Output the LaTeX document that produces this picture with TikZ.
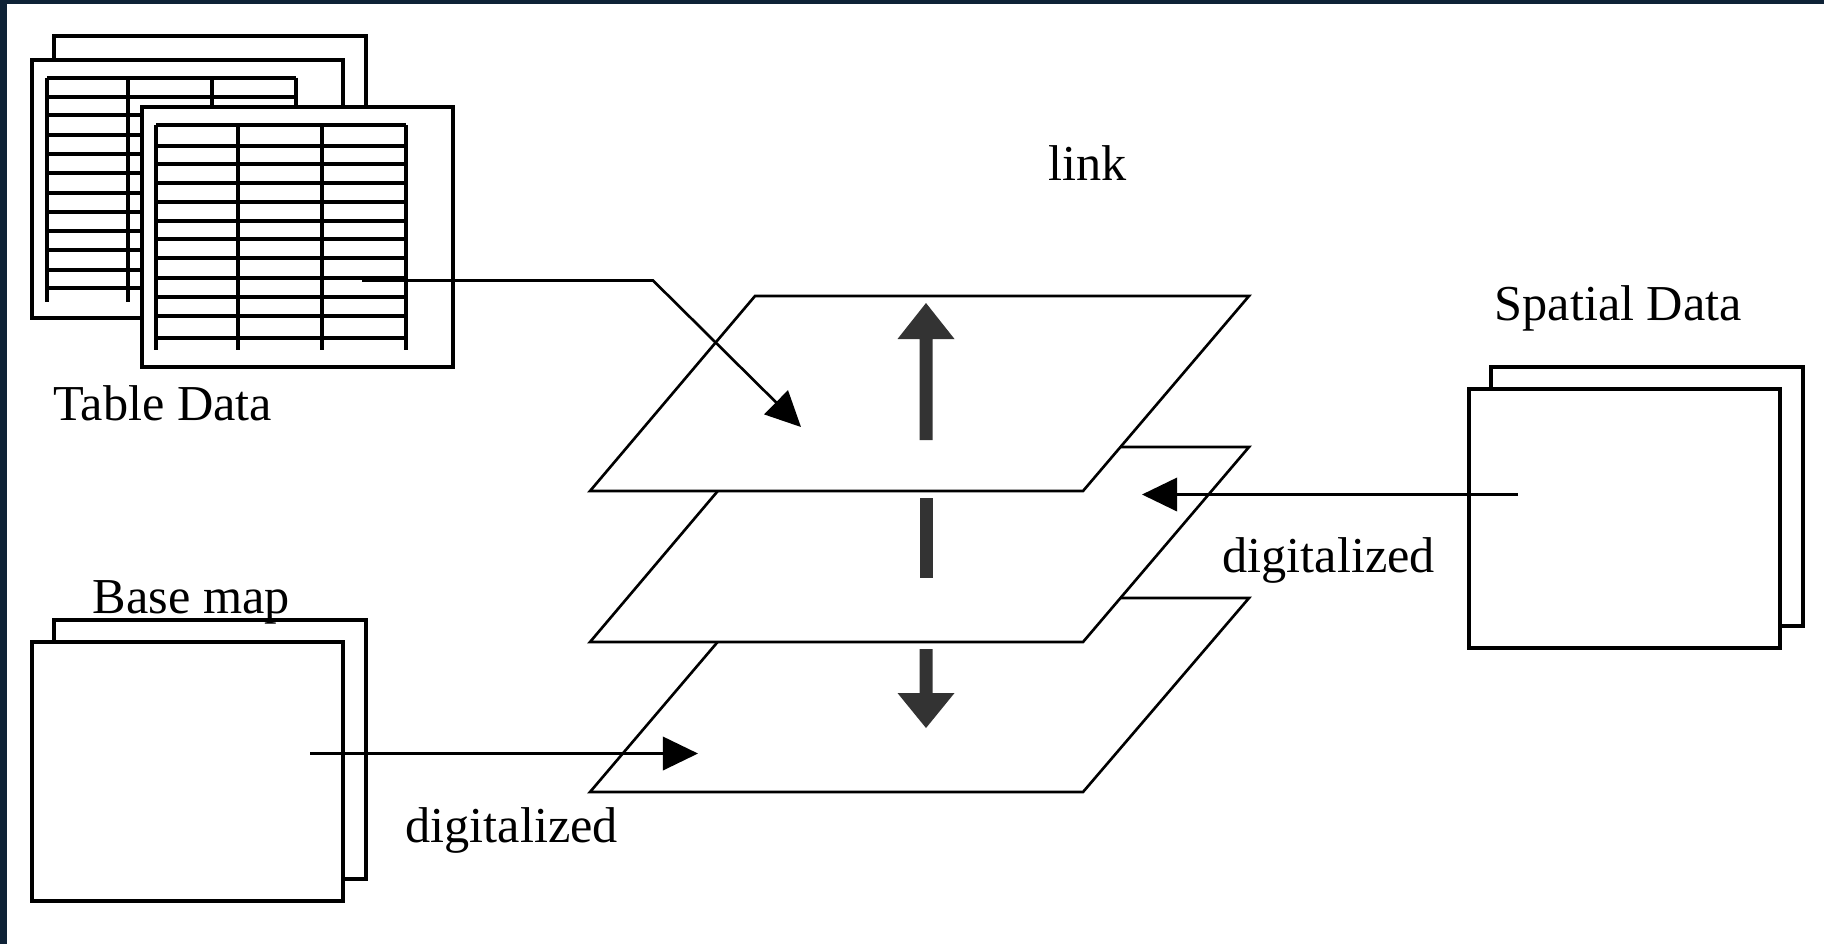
\documentclass[tikz,border=0pt]{standalone}
\usepackage{fontspec}
\setmainfont{Liberation Serif}
\usetikzlibrary{arrows.meta}
\definecolor{framecol}{RGB}{14,34,54}
\definecolor{barcol}{RGB}{51,51,51}
\begin{document}
\begin{tikzpicture}[x=0.01cm,y=-0.01cm,
  lbl/.style={font=\fontsize{14.3}{16}\selectfont, inner sep=0pt, anchor=base west},
  sheet/.style={draw=black, fill=white, line width=0.9pt},
  gridline/.style={line width=1.1pt},
  layer/.style={draw=black, fill=white, line width=0.75pt, line join=miter},
  conn/.style={line width=0.75pt, -{Triangle[length=10pt,width=9.5pt]}},
  bararrow/.style={fill=barcol}
]
\useasboundingbox (0,0) rectangle (1824,944);
\fill[white] (0,0) rectangle (1824,944);
\fill[framecol] (0,0) rectangle (1824,4);
\fill[framecol] (0,0) rectangle (7,944);

% Table data sheets
\draw[sheet] (54,36) rectangle (366,300);
\draw[sheet] (32,60) rectangle (343,318);
\foreach \y in {77.7,96.7,115,135,154,173.3,192.7,211.7,231,250,270,288.3}
  \draw[gridline] (47,\y) -- (296,\y);
\foreach \x in {47,128,212,296}
  \draw[gridline] (\x,77.7) -- (\x,302);
\draw[sheet] (142,107) rectangle (453,367);
\foreach \y in {125,145.7,164.3,182.7,201.7,220.7,239.3,258.3,277.7,296.7,316,338.3}
  \draw[gridline] (156,\y) -- (406,\y);
\foreach \x in {156,238,322,406}
  \draw[gridline] (\x,125) -- (\x,350);

% Base map sheets
\draw[sheet] (54,620) rectangle (366,879);
\draw[sheet] (32,642) rectangle (343,901);

% Spatial data sheets
\draw[sheet] (1491,367) rectangle (1803,626);
\draw[sheet] (1469,389) rectangle (1780,648);

% Layers
\draw[layer] (755,598) -- (1249,598) -- (1083,792) -- (590,792) -- cycle;
\draw[layer] (755,447) -- (1249,447) -- (1083,642) -- (590,642) -- cycle;
\draw[layer] (755,296) -- (1249,296) -- (1083,491) -- (590,491) -- cycle;

% Link arrows
\fill[bararrow] (919.5,440) -- (919.5,339) -- (897.5,339) -- (926,303) -- (954.5,339) -- (932.5,339) -- (932.5,440) -- cycle;
\fill[bararrow] (919.5,498) rectangle (932.5,578);
\fill[bararrow] (919.5,649) -- (919.5,693) -- (897.5,693) -- (926,728) -- (954.5,693) -- (932.5,693) -- (932.5,649) -- cycle;

% Connectors
\coordinate (tA) at (362,280.5);
\coordinate (tB) at (653,280.5);
\coordinate (tC) at (801,427);
\draw[conn] (tA) -- (tB) -- (tC);
\coordinate (bA) at (310,753.5);
\coordinate (bC) at (698,753.5);
\draw[conn] (bA) -- (bC);
\coordinate (sA) at (1518,494.5);
\coordinate (sC) at (1142,494.5);
\draw[conn] (sA) -- (sC);

% Labels
\node[lbl] (tabledata) at (53,420) {Table Data};
\node[lbl] (basemap) at (92,613) {Base map};
\node[lbl] (dig1) at (405,842) {digitalized};
\node[lbl] (dig2) at (1222,572) {digitalized};
\node[lbl] (link) at (1048,180) {link};
\node[lbl] (spatial) at (1494,320) {Spatial Data};
\end{tikzpicture}
\end{document}
